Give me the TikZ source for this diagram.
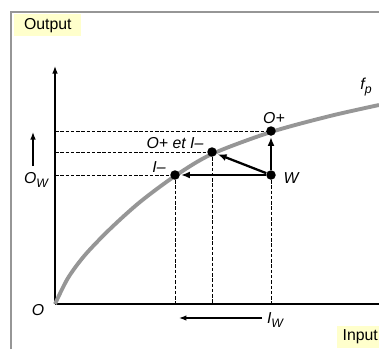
\documentclass[tikz,border=0pt]{standalone}
\usepackage{fontspec}
\setmainfont{Liberation Sans}
\usetikzlibrary{arrows.meta}
\definecolor{framegrey}{RGB}{150,150,150}
\definecolor{curvegrey}{RGB}{150,150,150}
\definecolor{tagyellow}{RGB}{255,255,204}
\newcommand{\subtag}[1]{\raisebox{-0.45ex}{\fontsize{7}{8}\selectfont #1}}
\tikzset{
  >={Latex[length=1.5mm,width=1.1mm]},
  frame/.style={draw=framegrey, line width=0.8pt},
  axis/.style={draw=black, line width=0.7pt},
  guide/.style={draw=black, dash pattern=on 2pt off 1pt, line width=0.45pt},
  curve/.style={draw=curvegrey, line width=2.2pt},
  dot/.style={circle, fill=black, inner sep=0pt, minimum size=1.9mm},
  move/.style={-{Latex[length=1.8mm,width=1.4mm]}, line width=1.3pt, shorten >=0.5pt},
  tag/.style={fill=tagyellow, inner sep=2pt, font=\fontsize{9}{10}\selectfont},
  lbl/.style={font=\fontsize{9}{10}\selectfont\itshape, inner sep=1pt}
}
\begin{document}
\begin{tikzpicture}[x=0.02cm, y=-0.02cm]
  \clip (0,0) rectangle (379,349);
  \draw[frame] (11,349) -- (11,12) -- (379,12);
  \node[tag, anchor=north west, minimum width=1.34cm, minimum height=0.44cm] (output) at (14,14) {Output};
  \node[tag, anchor=west, inner xsep=3pt, minimum height=0.4cm] (input) at (337,337) {Input};
  \coordinate (origin) at (55,304);
  \coordinate (ytop) at (55,66);
  \coordinate (xend) at (379,304);
  \draw[axis, ->] (origin) -- (ytop);
  \draw[axis] (origin) -- (xend);
  \draw[curve] plot[smooth] coordinates {(55,304) (68,278) (85,255) (110,229) (140,202) (175,176) (212,154) (271,132) (330,116) (379,105)};
  \node[dot] (iminus) at (175,175) {};
  \node[dot] (both) at (212,152) {};
  \node[dot] (oplus) at (271,131) {};
  \node[dot] (w) at (271,175) {};
  \foreach \p in {iminus,both,oplus}{
    \draw[guide] (origin |- \p) -- (\p);
  }
  \foreach \p in {iminus,both,w}{
    \draw[guide] (\p) -- (\p |- origin);
  }
  \draw[move] (w) -- (iminus);
  \draw[move] (w) -- (both);
  \draw[move] (w) -- (oplus);
  \node[lbl] (olabel) at (38,310) {O};
  \node[lbl] (owlabel) at (36,180) {O\subtag{W}};
  \node[lbl] (iwlabel) at (275,320) {I\subtag{W}};
  \node[lbl] (fplabel) at (366,87) {f\subtag{p}};
  \node[lbl] (opluslabel) at (274,118) {O+};
  \node[lbl] (bothlabel) at (175,143) {O+ et I–};
  \node[lbl] (iminuslabel) at (159,167) {I–};
  \node[lbl] (wlabel) at (291,178) {W};
  \coordinate (owtail) at (33,166);
  \coordinate (owtip) at (33,132);
  \draw[axis, ->] (owtail) -- (owtip);
  \coordinate (iwtail) at (262,318);
  \coordinate (iwtip) at (179,318);
  \draw[axis, ->] (iwtail) -- (iwtip);
\end{tikzpicture}
\end{document}
